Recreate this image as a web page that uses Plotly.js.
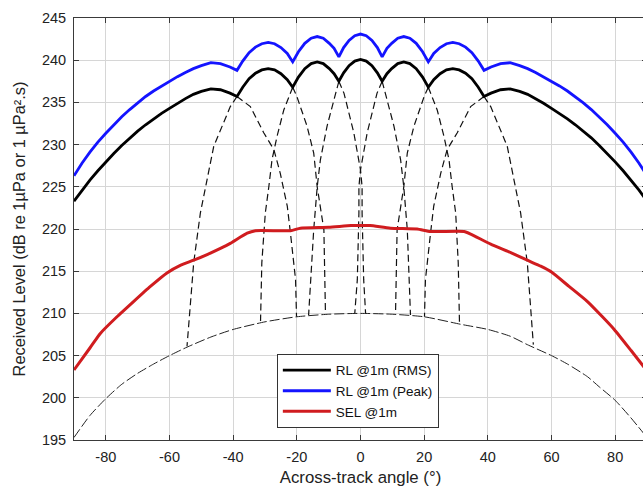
<!DOCTYPE html>
<html>
<head>
<meta charset="utf-8">
<script src="https://cdn.plot.ly/plotly-3.0.1.min.js"></script>
<style>
html,body{margin:0;padding:0;overflow:hidden;background:#fff;}
#chart{width:647px;height:488px;}
</style>
</head>
<body>
<div id="chart"></div>
<script>
// ---- data ----
const envAngle = [-90,-87.5,-85,-82.5,-80,-77.5,-75,-72.5,-70,-67.5,-65,-62.5,-60,-57.5,-55,-52.5,-50,-47,-44,-41,
                  -38.8,-37,-35,-33,-31,-29,-27,-25,-23,-21.3,-19.5,-17.5,-15.5,-13.6,-11.7,-9.8,-8.3,-6.8,-5.3,-3.6,-1.8,0,
                  1.8,3.6,5.3,6.8,8.3,9.8,11.7,13.6,15.5,17.5,19.5,21.3,23,25,27,29,31,33,35,37,
                  38.8,41,44,47,50,52.5,55,57.5,60,62.5,65,67.5,70,72.5,75,77.5,80,82.5,85,87.5,90];
const rmsLevel = [223.3,224.6,225.8,226.9,227.95,228.95,229.9,230.8,231.6,232.35,233.05,233.7,234.3,234.9,235.45,235.95,236.3,236.6,236.5,236.1,
                  235.7,236.8,237.8,238.45,238.85,239.0,238.85,238.4,237.7,236.8,238.0,239.0,239.6,239.8,239.6,239.0,238.4,237.5,238.5,239.35,239.9,240.1,
                  239.9,239.35,238.5,237.5,238.4,239.0,239.6,239.8,239.6,239.0,238.0,236.8,237.7,238.4,238.85,239.0,238.85,238.45,237.8,236.8,
                  235.7,236.1,236.5,236.6,236.3,235.95,235.45,234.9,234.3,233.7,233.05,232.35,231.6,230.8,229.9,228.95,227.95,226.9,225.8,224.6,223.3];
const peakLevel = [226.3,227.8,229.1,230.3,231.35,232.35,233.3,234.15,234.95,235.7,236.35,236.95,237.5,238.05,238.55,239.0,239.35,239.7,239.6,239.2,
                   238.8,239.9,240.9,241.55,241.95,242.1,241.95,241.5,240.8,239.8,241.0,242.0,242.6,242.8,242.6,242.0,241.4,240.4,241.5,242.35,242.9,243.1,
                   242.9,242.35,241.5,240.4,241.4,242.0,242.6,242.8,242.6,242.0,241.0,239.8,240.8,241.5,241.95,242.1,241.95,241.55,240.9,239.9,
                   238.8,239.2,239.6,239.7,239.35,239.0,238.55,238.05,237.5,236.95,236.35,235.7,234.95,234.15,233.3,232.35,231.35,230.3,229.1,227.8,226.3];

const selAngle = [-90,-85,-81.8,-76.5,-71.3,-66,-60.8,-56.6,-52.4,-48,-44,-40.9,-35.6,-33,-22,-18.9,-10,-3,0,
                  3,9.4,17.8,22,32.5,34.6,40.9,47.2,52.4,56.6,60,65.5,71.3,76,79.7,85,90];
const selLevel = [203.3,205.9,207.6,209.6,211.4,213.2,214.8,215.7,216.3,217.0,217.7,218.3,219.5,219.8,219.8,220.1,220.2,220.4,220.4,
                  220.4,220.1,220.0,219.7,219.7,219.4,218.2,217.2,216.3,215.6,214.9,213.2,211.4,209.6,208.1,205.6,203.2];

const floorAngle = [-90,-85,-80,-75,-70,-65,-60,-54.5,-47,-40,-30,-20,-10,0,10,20,31.6,40,47,52.4,60,65,71.3,75,80,85,90];
const floorLevel = [195.3,197.9,199.9,201.6,202.9,204.0,205.0,206.0,207.2,208.1,209.0,209.6,209.9,210.0,209.9,209.6,208.7,208.1,207.3,206.3,205.0,204.0,202.5,201.3,199.7,197.6,195.3];

// individual beam flanks below the envelope (dashed)
const beamFlankAngle = [
  [-38.8,-34.6,-30.4,-27.2,-25.2,-24.1,-23.0,-22.0,-20.4,-20.1],
  [-38.8,-40.9,-46.1,-48.7,-50.3,-52.4,-53.5,-54.5],
  [-21.3,-20.0,-16.8,-14.7,-13.6,-11.5,-11.0],
  [-21.3,-24.1,-26.2,-27.8,-28.8,-29.9,-31.0,-31.4],
  [-6.8,-8.4,-10.5,-12.6,-13.6,-14.7,-15.7,-16.3],
  [-6.8,-5.2,-2.1,0,0.5,0.5,1.0,1.6],
  [38.8,34.6,30.4,27.2,25.2,24.1,23.0,22.0,20.4,20.1],
  [38.8,40.9,46.1,48.7,50.3,52.4,53.5,54.3],
  [21.3,20.0,16.8,14.7,13.6,11.5,11.0],
  [21.3,24.1,26.2,27.8,28.8,29.9,30.7,31.1],
  [6.8,8.4,10.5,12.6,13.6,14.7,15.3,15.7],
  [6.8,5.2,2.1,0,-0.5,-0.5,-1.0,-1.8]
];
const beamFlankLevel = [
  [235.7,234.5,231.4,229.4,226.6,224.7,222.7,219.5,214.0,209.6],
  [235.7,234.5,229.8,225.0,221.9,216.0,210.4,206.1],
  [236.8,235.7,232.2,229.0,225.0,219.9,209.9],
  [236.8,234.1,231.0,228.2,225.0,221.9,216.0,209.1],
  [237.5,235.3,232.2,228.2,225.0,219.9,214.0,209.8],
  [237.5,236.1,231.4,227.0,225.0,221.9,214.0,210.0],
  [235.7,234.5,231.4,229.4,226.6,224.7,222.7,219.5,214.0,209.6],
  [235.7,234.5,229.8,225.0,221.9,216.0,210.4,206.3],
  [236.8,235.7,232.2,229.0,225.0,219.9,209.9],
  [236.8,234.1,231.0,228.2,225.0,221.9,216.0,208.8],
  [237.5,235.3,232.2,228.2,225.0,219.9,214.0,209.8],
  [237.5,236.1,231.4,227.0,225.0,221.9,214.0,210.0]
];

const seriesNames = ['RL @1m (RMS)','RL @1m (Peak)','SEL @1m'];
const xTicks = [-80,-60,-40,-20,0,20,40,60,80];
const yTicks = [195,200,205,210,215,220,225,230,235,240,245];

// ---- traces ----
const traces = [];
beamFlankAngle.forEach((xs,i)=>{
  traces.push({x:xs, y:beamFlankLevel[i], type:'scatter', mode:'lines', showlegend:false, hoverinfo:'skip',
    line:{color:'#111', width:1.2, dash:'7px,4px'}});
});
traces.push({x:floorAngle, y:floorLevel, type:'scatter', mode:'lines', showlegend:false, hoverinfo:'skip',
  line:{color:'#222', width:1, dash:'10px,3px', shape:'spline', smoothing:0.6}});
traces.push({x:envAngle, y:rmsLevel, name:seriesNames[0], type:'scatter', mode:'lines',
  line:{color:'#000000', width:2.8}});
traces.push({x:envAngle, y:peakLevel, name:seriesNames[1], type:'scatter', mode:'lines',
  line:{color:'#1414ff', width:2.8}});
traces.push({x:selAngle, y:selLevel, name:seriesNames[2], type:'scatter', mode:'lines',
  line:{color:'#d01c1f', width:3, shape:'spline', smoothing:0.5}});

const fontFam = 'Liberation Sans, Arial, Helvetica, sans-serif';
const layout = {
  width:647, height:488,
  margin:{l:74, r:0, t:18, b:48, pad:0},
  paper_bgcolor:'#ffffff', plot_bgcolor:'#ffffff',
  font:{family:fontFam, color:'#222', size:14.5},
  showlegend:true,
  legend:{x:0.354, y:0.204, xanchor:'left', yanchor:'top', bgcolor:'#ffffff',
    bordercolor:'#333', borderwidth:1, font:{family:fontFam, size:13.5, color:'#111'},
    itemwidth:48, tracegroupgap:0},
  xaxis:{range:[-90,90], tickmode:'array', tickvals:xTicks, ticktext:xTicks.map(String),
    showgrid:true, gridcolor:'#d6d6d6', gridwidth:1, zeroline:false,
    showline:true, linecolor:'#3a3a3a', linewidth:1, mirror:'ticks',
    ticks:'inside', ticklen:5, tickcolor:'#3a3a3a', ticklabelstandoff:4,
    tickfont:{size:14.5, color:'#222'},
    title:{text:'Across-track angle (°)', font:{size:16.8, color:'#222'}, standoff:6}},
  yaxis:{range:[195,245], tickmode:'array', tickvals:yTicks, ticktext:yTicks.map(String),
    showgrid:true, gridcolor:'#d6d6d6', gridwidth:1, zeroline:false,
    showline:true, linecolor:'#3a3a3a', linewidth:1, mirror:'ticks',
    ticks:'inside', ticklen:5, tickcolor:'#3a3a3a', ticklabelstandoff:4,
    tickfont:{size:14.5, color:'#222'},
    title:{text:'Received Level (dB re 1µPa or 1 µPa².s)', font:{size:16.4, color:'#222'}, standoff:12}}
};
Plotly.newPlot('chart', traces, layout, {staticPlot:true, displayModeBar:false});
</script>
</body>
</html>
